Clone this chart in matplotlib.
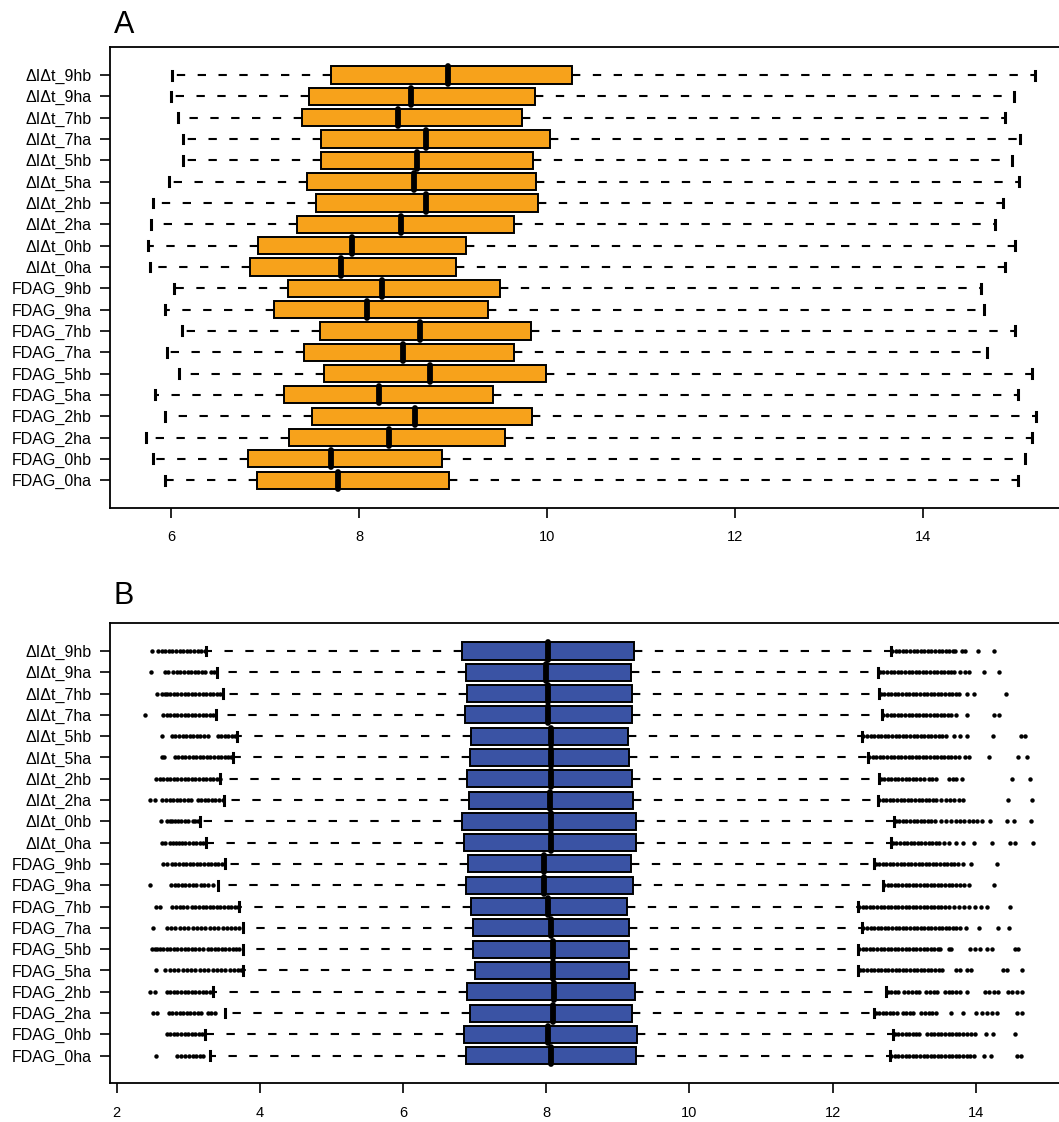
import matplotlib
matplotlib.use("Agg")
import matplotlib.pyplot as plt

plt.rcParams["font.family"] = ["Liberation Sans", "DejaVu Sans"]
plt.rcParams["lines.scale_dashes"] = False

ORANGE = "#F7A21B"
BLUE = "#3A53A4"

# rows listed top to bottom
labels = ["ΔIΔt_9hb", "ΔIΔt_9ha", "ΔIΔt_7hb", "ΔIΔt_7ha", "ΔIΔt_5hb",
          "ΔIΔt_5ha", "ΔIΔt_2hb", "ΔIΔt_2ha", "ΔIΔt_0hb", "ΔIΔt_0ha",
          "FDAG_9hb", "FDAG_9ha", "FDAG_7hb", "FDAG_7ha", "FDAG_5hb",
          "FDAG_5ha", "FDAG_2hb", "FDAG_2ha", "FDAG_0hb", "FDAG_0ha"]

# panel A
lo_a = [6.01, 6.00, 6.07, 6.13, 6.13, 5.98, 5.81, 5.79, 5.76, 5.78,
        6.03, 5.94, 6.12, 5.96, 6.08, 5.83, 5.94, 5.73, 5.81, 5.94]
q1_a = [7.70, 7.47, 7.39, 7.60, 7.60, 7.45, 7.54, 7.34, 6.93, 6.84,
        7.25, 7.10, 7.58, 7.42, 7.63, 7.20, 7.50, 7.26, 6.82, 6.92]
med_a = [8.95, 8.55, 8.41, 8.71, 8.62, 8.59, 8.71, 8.45, 7.93, 7.81,
         8.24, 8.09, 8.65, 8.47, 8.76, 8.21, 8.60, 8.32, 7.70, 7.78]
q3_a = [10.27, 9.87, 9.73, 10.03, 9.85, 9.88, 9.90, 9.65, 9.14, 9.03,
        9.50, 9.37, 9.83, 9.65, 9.99, 9.43, 9.84, 9.55, 8.88, 8.96]
hi_a = [15.19, 14.97, 14.87, 15.03, 14.95, 15.02, 14.85, 14.77, 14.98, 14.87,
        14.62, 14.65, 14.98, 14.68, 15.16, 15.01, 15.20, 15.16, 15.09, 15.01]

# panel B
lo_b = [3.25, 3.40, 3.48, 3.39, 3.68, 3.62, 3.45, 3.50, 3.16, 3.25,
        3.51, 3.41, 3.71, 3.76, 3.76, 3.77, 3.34, 3.51, 3.23, 3.30]
q1_b = [6.83, 6.88, 6.90, 6.86, 6.95, 6.93, 6.90, 6.92, 6.82, 6.85,
        6.91, 6.88, 6.95, 6.98, 6.98, 7.00, 6.89, 6.93, 6.85, 6.88]
med_b = [8.03, 8.00, 8.03, 8.02, 8.07, 8.07, 8.07, 8.05, 8.06, 8.06,
         7.97, 7.97, 8.03, 8.07, 8.09, 8.09, 8.11, 8.09, 8.03, 8.07]
q3_b = [9.23, 9.19, 9.20, 9.20, 9.14, 9.15, 9.20, 9.21, 9.26, 9.25,
        9.19, 9.21, 9.13, 9.16, 9.15, 9.15, 9.24, 9.20, 9.27, 9.26]
hi_b = [12.81, 12.64, 12.65, 12.69, 12.41, 12.49, 12.65, 12.63, 12.86, 12.81,
        12.58, 12.70, 12.35, 12.41, 12.35, 12.36, 12.75, 12.58, 12.85, 12.80]

out_low_b = [
    [2.49, 2.58, 2.63, 2.68, 2.73, 2.78, 2.83, 2.88, 2.93, 2.98, 3.03, 3.08, 3.13, 3.18, 3.23],
    [2.48, 2.67, 2.72, 2.79, 2.84, 2.89, 2.94, 2.99, 3.04, 3.09, 3.14, 3.19, 3.24, 3.32, 3.36],
    [2.57, 2.63, 2.67, 2.71, 2.75, 2.80, 2.85, 2.90, 2.95, 3.00, 3.05, 3.10, 3.15, 3.20, 3.25,
     3.30, 3.35, 3.40, 3.45],
    [2.39, 2.65, 2.70, 2.75, 2.80, 2.85, 2.90, 2.95, 3.00, 3.05, 3.10, 3.15, 3.20, 3.25, 3.30, 3.35],
    [2.63, 2.77, 2.82, 2.87, 2.92, 2.97, 3.02, 3.07, 3.12, 3.17, 3.22, 3.27, 3.41, 3.46, 3.51,
     3.56, 3.61, 3.65],
    [2.64, 2.66, 2.81, 2.86, 2.91, 2.96, 3.01, 3.06, 3.11, 3.16, 3.21, 3.26, 3.31, 3.36, 3.41,
     3.46, 3.51, 3.56, 3.60],
    [2.55, 2.60, 2.65, 2.70, 2.75, 2.80, 2.85, 2.90, 2.95, 3.00, 3.05, 3.10, 3.15, 3.20, 3.25,
     3.30, 3.35, 3.40, 3.44],
    [2.47, 2.53, 2.64, 2.69, 2.74, 2.79, 2.84, 2.89, 2.94, 2.99, 3.04, 3.13, 3.18, 3.23, 3.28,
     3.33, 3.38, 3.43, 3.48],
    [2.62, 2.70, 2.74, 2.78, 2.82, 2.86, 2.90, 2.95, 3.00, 3.06, 3.10, 3.14],
    [2.63, 2.67, 2.75, 2.79, 2.83, 2.87, 2.91, 2.96, 3.01, 3.06, 3.11, 3.16, 3.21],
    [2.65, 2.71, 2.77, 2.82, 2.87, 2.92, 2.97, 3.02, 3.07, 3.12, 3.17, 3.22, 3.27, 3.32, 3.37,
     3.42, 3.47],
    [2.47, 2.76, 2.81, 2.86, 2.91, 2.96, 3.01, 3.06, 3.11, 3.18, 3.22, 3.28, 3.34],
    [2.55, 2.60, 2.78, 2.83, 2.88, 2.93, 2.98, 3.05, 3.10, 3.15, 3.20, 3.25, 3.30, 3.35, 3.40,
     3.45, 3.50, 3.55, 3.60, 3.65, 3.69],
    [2.51, 2.70, 2.76, 2.82, 2.88, 2.94, 3.00, 3.06, 3.12, 3.18, 3.24, 3.30, 3.36, 3.42, 3.48,
     3.54, 3.60, 3.66, 3.71],
    [2.49, 2.53, 2.57, 2.61, 2.65, 2.70, 2.75, 2.80, 2.85, 2.90, 2.95, 3.00, 3.05, 3.10, 3.15,
     3.20, 3.27, 3.32, 3.37, 3.42, 3.47, 3.52, 3.57, 3.62, 3.67, 3.71],
    [2.55, 2.68, 2.74, 2.80, 2.86, 2.92, 2.98, 3.04, 3.10, 3.16, 3.22, 3.28, 3.34, 3.40, 3.46,
     3.52, 3.58, 3.64, 3.70, 3.74],
    [2.47, 2.54, 2.70, 2.75, 2.80, 2.85, 2.90, 2.95, 3.00, 3.05, 3.10, 3.15, 3.20, 3.25, 3.30],
    [2.51, 2.56, 2.73, 2.78, 2.83, 2.88, 2.93, 2.98, 3.03, 3.08, 3.13, 3.18, 3.27, 3.32, 3.37],
    [2.70, 2.75, 2.80, 2.85, 2.90, 2.95, 3.00, 3.05, 3.10, 3.15, 3.19],
    [2.55, 2.84, 2.90, 2.96, 3.01, 3.06, 3.11, 3.16, 3.21],
]

out_high_b = [
    [12.83, 12.88, 12.93, 12.98, 13.03, 13.08, 13.13, 13.18, 13.23, 13.28, 13.33, 13.38, 13.43,
     13.48, 13.53, 13.58, 13.63, 13.68, 13.71, 13.80, 13.85, 14.03, 14.25],
    [12.66, 12.71, 12.76, 12.81, 12.86, 12.91, 12.96, 13.01, 13.06, 13.11, 13.16, 13.21, 13.26,
     13.31, 13.36, 13.41, 13.46, 13.51, 13.56, 13.61, 13.66, 13.70, 13.78, 13.85, 13.91, 14.12, 14.33],
    [12.67, 12.72, 12.77, 12.82, 12.87, 12.92, 12.97, 13.02, 13.07, 13.12, 13.17, 13.22, 13.27,
     13.32, 13.37, 13.42, 13.47, 13.52, 13.57, 13.62, 13.67, 13.72, 13.77, 13.87, 13.98, 14.42],
    [12.71, 12.76, 12.81, 12.86, 12.91, 12.96, 13.01, 13.06, 13.11, 13.16, 13.21, 13.26, 13.31,
     13.36, 13.41, 13.46, 13.51, 13.56, 13.61, 13.66, 13.72, 13.88, 14.25, 14.32],
    [12.43, 12.48, 12.53, 12.58, 12.63, 12.68, 12.73, 12.78, 12.83, 12.88, 12.93, 12.98, 13.03,
     13.08, 13.13, 13.18, 13.23, 13.28, 13.33, 13.38, 13.43, 13.48, 13.53, 13.58, 13.70, 13.78,
     13.88, 14.24, 14.63, 14.69],
    [12.51, 12.56, 12.61, 12.66, 12.71, 12.76, 12.81, 12.86, 12.91, 12.96, 13.01, 13.06, 13.11,
     13.16, 13.21, 13.26, 13.31, 13.36, 13.41, 13.46, 13.51, 13.56, 13.61, 13.66, 13.71, 13.76,
     13.85, 13.90, 14.18, 14.59, 14.71],
    [12.67, 12.72, 12.77, 12.82, 12.87, 12.92, 12.97, 13.02, 13.07, 13.12, 13.17, 13.22, 13.27,
     13.34, 13.39, 13.44, 13.63, 13.68, 13.73, 13.80, 14.51, 14.76],
    [12.65, 12.70, 12.75, 12.80, 12.85, 12.90, 12.95, 13.00, 13.05, 13.10, 13.15, 13.20, 13.25,
     13.30, 13.35, 13.40, 13.45, 13.51, 13.58, 13.64, 13.70, 13.76, 13.82, 14.45, 14.79],
    [12.88, 12.93, 12.98, 13.03, 13.08, 13.13, 13.18, 13.23, 13.28, 13.33, 13.38, 13.43, 13.52,
     13.59, 13.66, 13.72, 13.78, 13.84, 13.90, 13.96, 14.01, 14.08, 14.20, 14.43, 14.53, 14.77],
    [12.84, 12.89, 12.94, 12.99, 13.04, 13.09, 13.14, 13.19, 13.24, 13.29, 13.34, 13.39, 13.44,
     13.48, 13.56, 13.63, 13.73, 13.82, 13.98, 14.22, 14.48, 14.55, 14.80],
    [12.60, 12.65, 12.70, 12.75, 12.80, 12.85, 12.90, 12.95, 13.00, 13.05, 13.10, 13.15, 13.20,
     13.25, 13.30, 13.35, 13.40, 13.45, 13.50, 13.55, 13.60, 13.65, 13.70, 13.75, 13.82, 13.93, 14.30],
    [12.72, 12.77, 12.82, 12.87, 12.92, 12.97, 13.02, 13.07, 13.12, 13.17, 13.22, 13.27, 13.32,
     13.37, 13.42, 13.47, 13.52, 13.57, 13.62, 13.67, 13.72, 13.78, 13.84, 13.90, 14.25],
    [12.37, 12.42, 12.47, 12.52, 12.57, 12.62, 12.67, 12.72, 12.77, 12.82, 12.87, 12.92, 12.97,
     13.02, 13.07, 13.12, 13.17, 13.22, 13.27, 13.32, 13.37, 13.42, 13.47, 13.52, 13.57, 13.63,
     13.69, 13.76, 13.83, 13.90, 13.99, 14.07, 14.16, 14.48],
    [12.43, 12.48, 12.53, 12.58, 12.63, 12.68, 12.73, 12.78, 12.83, 12.88, 12.93, 12.98, 13.03,
     13.08, 13.13, 13.18, 13.23, 13.28, 13.33, 13.38, 13.43, 13.48, 13.53, 13.58, 13.63, 13.68,
     13.73, 13.78, 13.86, 14.04, 14.31, 14.47],
    [12.37, 12.42, 12.47, 12.52, 12.57, 12.62, 12.67, 12.72, 12.77, 12.82, 12.87, 12.92, 12.97,
     13.02, 13.07, 13.12, 13.17, 13.22, 13.27, 13.32, 13.37, 13.42, 13.47, 13.50, 13.62, 13.66,
     13.92, 13.99, 14.06, 14.15, 14.22, 14.55, 14.59],
    [12.38, 12.43, 12.48, 12.53, 12.58, 12.63, 12.68, 12.73, 12.78, 12.83, 12.88, 12.93, 12.98,
     13.03, 13.08, 13.13, 13.18, 13.23, 13.28, 13.33, 13.38, 13.43, 13.48, 13.53, 13.72, 13.78,
     13.87, 13.93, 14.38, 14.44, 14.64],
    [12.77, 12.82, 12.87, 12.91, 12.99, 13.05, 13.11, 13.16, 13.21, 13.31, 13.36, 13.41, 13.46,
     13.57, 13.62, 13.67, 13.72, 13.78, 13.87, 14.13, 14.19, 14.25, 14.31, 14.45, 14.50, 14.58, 14.64],
    [12.60, 12.65, 12.70, 12.75, 12.80, 12.85, 12.90, 12.98, 13.03, 13.08, 13.12, 13.24, 13.29,
     13.34, 13.39, 13.44, 13.66, 13.82, 14.00, 14.08, 14.16, 14.22, 14.29, 14.57, 14.64],
    [12.87, 12.92, 12.97, 13.02, 13.07, 13.12, 13.17, 13.20, 13.32, 13.37, 13.42, 13.47, 13.52,
     13.57, 13.62, 13.67, 13.72, 13.77, 13.82, 13.87, 13.93, 13.99, 14.14, 14.24, 14.55],
    [12.82, 12.87, 12.92, 12.97, 13.02, 13.07, 13.12, 13.17, 13.22, 13.27, 13.32, 13.37, 13.42,
     13.47, 13.52, 13.57, 13.62, 13.67, 13.72, 13.77, 13.82, 13.87, 13.92, 13.97, 14.11, 14.21,
     14.57, 14.63],
]


def panel(ax, lo, q1, med, q3, hi, fliers, color, xlim, xticks):
    n = len(labels)
    stats = []
    for i in range(n):
        stats.append(dict(whislo=lo[i], q1=q1[i], med=med[i], q3=q3[i],
                          whishi=hi[i], fliers=fliers[i], label=labels[i]))
    ax.bxp(stats, positions=list(range(n, 0, -1)), widths=0.8, capwidths=0.42,
           orientation="horizontal", patch_artist=True, showfliers=True,
           boxprops=dict(facecolor=color, edgecolor="black", linewidth=1.4),
           whiskerprops=dict(color="black", linewidth=1.5, linestyle=(0, (6, 9))),
           capprops=dict(color="black", linewidth=2.2),
           medianprops=dict(color="black", linewidth=4.2, solid_capstyle="round"),
           flierprops=dict(marker="o", markersize=3.2, markerfacecolor="black",
                           markeredgewidth=0, linestyle="none"))
    ax.set_xlim(*xlim)
    ax.set_ylim(-0.3, 21.3)
    ax.set_xticks(xticks)
    ax.set_xticklabels([str(t) for t in xticks])
    ax.tick_params(axis="x", length=7, width=1.2, pad=9, labelsize=10.5)
    ax.tick_params(axis="y", length=7, width=1.2, pad=6, labelsize=11.5)
    for s in ax.spines.values():
        s.set_linewidth(1.3)


fig = plt.figure(figsize=(10.59, 11.22), dpi=100)
W, H = 1059, 1122

ax_a = fig.add_axes([109.9 / W, 1 - 508 / H, (1071.5 - 109.9) / W, (508 - 47.3) / H])
panel(ax_a, lo_a, q1_a, med_a, q3_a, hi_a, [[] for _ in labels], ORANGE,
      (5.35, 15.58), [6, 8, 10, 12, 14])

fliers_b = [l + h for l, h in zip(out_low_b, out_high_b)]
ax_b = fig.add_axes([109.9 / W, 1 - 1083.3 / H, (1068.9 - 109.9) / W, (1083.3 - 623.3) / H])
panel(ax_b, lo_b, q1_b, med_b, q3_b, hi_b, fliers_b, BLUE,
      (1.906, 15.3), [2, 4, 6, 8, 10, 12, 14])

fig.text(114 / W, 1 - 33 / H, "A", fontsize=22, ha="left", va="baseline")
fig.text(114 / W, 1 - 604 / H, "B", fontsize=22, ha="left", va="baseline")

fig.savefig("out.png", dpi=100)
